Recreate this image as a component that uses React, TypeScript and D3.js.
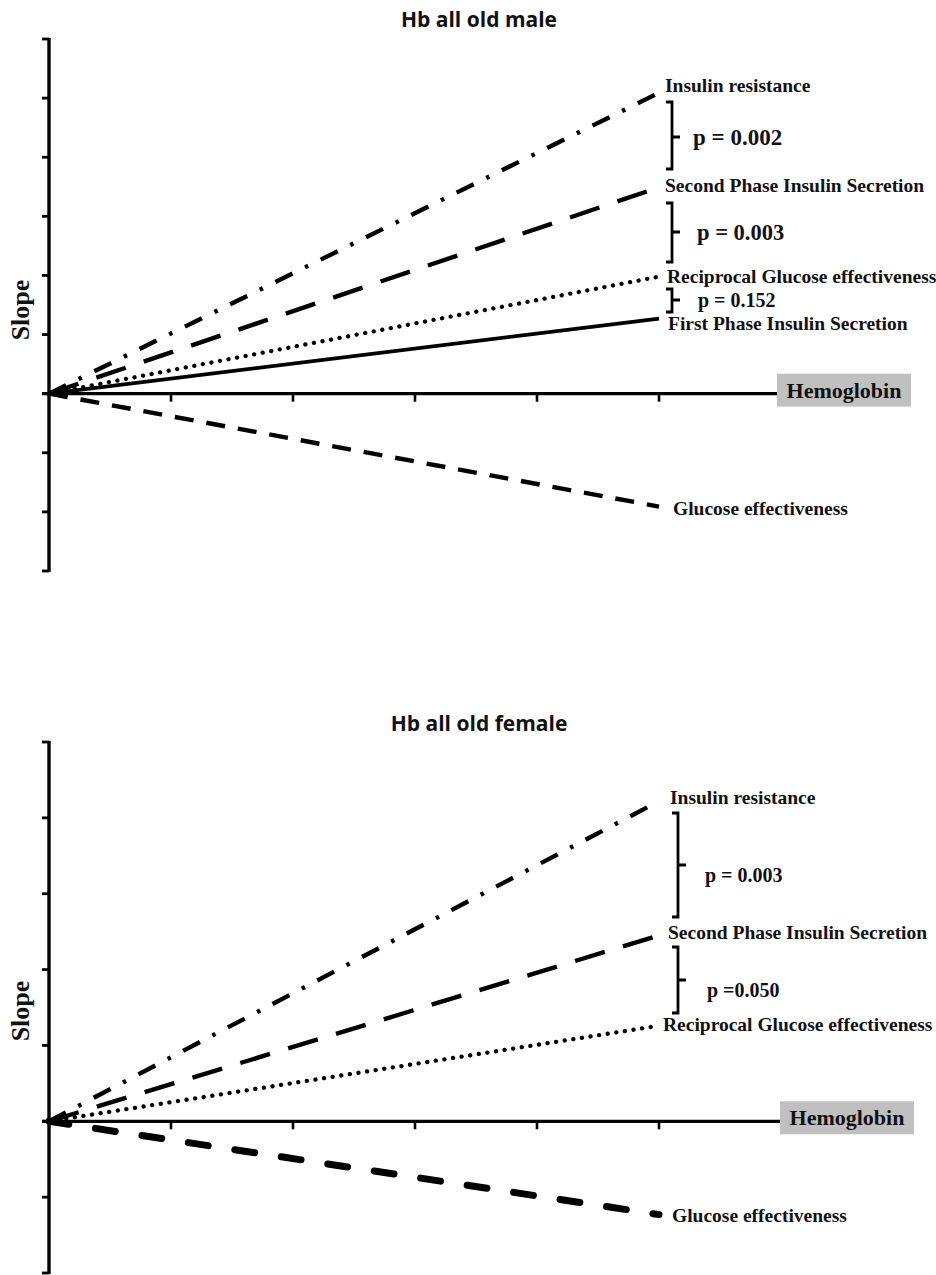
import React from "react";
import * as d3 from "d3";

// ---------- DATA ----------
const xTicks = [0, 1, 2, 3, 4, 5];
const xEnd = 5;

const maleTitle = "Hb all old male";
const maleYTicks = [-3, -2, -1, 0, 1, 2, 3, 4, 5, 6];
const maleSeries = ["Insulin resistance", "Second Phase Insulin Secretion", "Reciprocal Glucose effectiveness", "First Phase Insulin Secretion", "Glucose effectiveness"];
const maleSlopes = [5.09, 3.49, 1.98, 1.27, -1.91];
const malePValues = ["p = 0.002", "p = 0.003", "p = 0.152"];

const femaleTitle = "Hb all old female";
const femaleYTicks = [-2, -1, 0, 1, 2, 3, 4, 5];
const femaleSeries = ["Insulin resistance", "Second Phase Insulin Secretion", "Reciprocal Glucose effectiveness", "Glucose effectiveness"];
const femaleSlopes = [4.22, 2.45, 1.26, -1.23];
const femalePValues = ["p = 0.003", "p =0.050"];

// ---------- STYLES / LAYOUT ----------
const serif = "'Liberation Serif', 'Times New Roman', serif";
const sans = "'Open Sans', 'Noto Sans', sans-serif";

const lineStyles: Record<string, { dash?: string; width: number; cap: string }> = {
  "Insulin resistance": { dash: "19,14,3.5,14", width: 4.4, cap: "butt" },
  "Second Phase Insulin Secretion": { dash: "31,19", width: 4.4, cap: "butt" },
  "Reciprocal Glucose effectiveness": { dash: "0.1,8.6", width: 4.3, cap: "round" },
  "First Phase Insulin Secretion": { width: 3.8, cap: "butt" },
  "Glucose effectiveness": { dash: "19,13", width: 4.4, cap: "butt" },
};

type Panel = {
  title: string;
  yTicks: number[];
  series: string[];
  slopes: number[];
  pvals: string[];
  yRange: [number, number];
  titleY: number;
  slopeY: number;
  labelDx: number[];
  labelDy: number[];
  brackets: { top: number; bottom: number; mid: number; vx: number; px: number; py: number; fs: number }[];
  glucoseStyle?: { dash: string; width: number; cap: string };
  boxX: number;
};

const panels: Panel[] = [
  {
    title: maleTitle,
    yTicks: maleYTicks,
    series: maleSeries,
    slopes: maleSlopes,
    pvals: malePValues,
    yRange: [571, 39],
    titleY: 27,
    slopeY: 310,
    labelDx: [6, 6, 8, 9, 14],
    labelDy: [-1, 5, 6, 11, 8],
    brackets: [
      { top: 102, bottom: 169, mid: 137, vx: 672, px: 693, py: 145, fs: 23 },
      { top: 203, bottom: 262, mid: 232, vx: 672, px: 697, py: 240, fs: 22.5 },
      { top: 289, bottom: 312, mid: 300, vx: 672, px: 698, py: 307, fs: 20 },
    ],
    boxX: 777,
  },
  {
    title: femaleTitle,
    yTicks: femaleYTicks,
    series: femaleSeries,
    slopes: femaleSlopes,
    pvals: femalePValues,
    yRange: [1273, 742],
    titleY: 731,
    slopeY: 1011,
    labelDx: [11, 9, 4, 13],
    labelDy: [3, 4, 5, 7],
    brackets: [
      { top: 813, bottom: 917, mid: 865, vx: 678, px: 705, py: 882, fs: 20 },
      { top: 947, bottom: 1013, mid: 980, vx: 678, px: 707, py: 997, fs: 20 },
    ],
    glucoseStyle: { dash: "20,27", width: 7, cap: "round" },
    boxX: 780,
  },
];

function PanelView({ p }: { p: Panel }) {
  const ext = d3.extent(p.yTicks) as [number, number];
  const x = d3.scaleLinear().domain([0, 6]).range([49, 781]);
  const y = d3.scaleLinear().domain(ext).range(p.yRange);
  const x0 = x(0);
  const y0 = y(0);
  const line = d3.line<[number, number]>().x((d) => x(d[0])).y((d) => y(d[1]));
  const yTop = y(ext[1]);
  const yBot = y(ext[0]);

  return (
    <g>
      <text x={479} y={p.titleY} textAnchor="middle" fontFamily={sans} fontWeight={700} fontSize={21} fill="#111">
        {p.title}
      </text>
      {/* y axis */}
      <line x1={x0} x2={x0} y1={yTop - 1} y2={yBot + 1} stroke="#000" strokeWidth={3.4} />
      {p.yTicks.map((t) => (
        <line key={"yt" + t} x1={x0 - 7} x2={x0} y1={y(t)} y2={y(t)} stroke="#000" strokeWidth={2.8} />
      ))}
      {/* x axis */}
      <line x1={x0 - 7} x2={p.boxX} y1={y0} y2={y0} stroke="#000" strokeWidth={3.2} />
      {xTicks.filter((t) => t > 0).map((t) => (
        <line key={"xt" + t} x1={x(t)} x2={x(t)} y1={y0} y2={y0 + 8} stroke="#000" strokeWidth={2.6} />
      ))}
      <rect x={p.boxX} y={y0 - 20} width={134} height={33} fill="#c0c0c0" />
      <text x={p.boxX + 67} y={y0 + 4} textAnchor="middle" fontFamily={serif} fontWeight={700} fontSize={22} fill="#111">
        Hemoglobin
      </text>
      <text
        transform={`translate(${29},${p.slopeY}) rotate(-90)`}
        textAnchor="middle"
        fontFamily={serif}
        fontWeight={700}
        fontSize={26}
        fill="#111"
      >
        Slope
      </text>
      {/* lines */}
      {p.series.map((s, i) => {
        let st = lineStyles[s];
        if (s === "Glucose effectiveness" && p.glucoseStyle) st = p.glucoseStyle;
        const d = line([
          [0, 0],
          [xEnd, p.slopes[i]],
        ]);
        return (
          <path
            key={s}
            d={d || ""}
            fill="none"
            stroke="#000"
            strokeWidth={st.width}
            strokeDasharray={st.dash}
            strokeLinecap={st.cap as any}
          />
        );
      })}
      {/* arrow head at origin */}
      <polygon
        points={`${x0 - 1},${y0} ${x0 + 16},${y0 - 6} ${x0 + 12},${y0} ${x0 + 16},${y0 + 5}`}
        fill="#000"
      />
      {/* labels */}
      {p.series.map((s, i) => (
        <text
          key={"lb" + s}
          x={x(xEnd) + p.labelDx[i]}
          y={y(p.slopes[i]) + p.labelDy[i]}
          fontFamily={serif}
          fontWeight={700}
          fontSize={19.5}
          fill="#111"
        >
          {s}
        </text>
      ))}
      {/* brackets */}
      {p.brackets.map((b, i) => (
        <g key={"br" + i}>
          <path
            d={`M${b.vx - 6},${b.top} L${b.vx},${b.top} L${b.vx},${b.bottom} L${b.vx - 6},${b.bottom} M${b.vx},${b.mid} L${b.vx + 8},${b.mid}`}
            fill="none"
            stroke="#000"
            strokeWidth={2.8}
          />
          <text x={b.px} y={b.py} fontFamily={serif} fontWeight={700} fontSize={b.fs} fill="#111">
            {p.pvals[i]}
          </text>
        </g>
      ))}
    </g>
  );
}

export default function App() {
  return (
    <svg
      width={936}
      height={1275}
      viewBox="0 0 936 1275"
      style={{ position: "absolute", left: 0, top: 0, background: "#fff" }}
    >
      <rect width={936} height={1275} fill="#fff" />
      {panels.map((p, i) => (
        <PanelView key={i} p={p} />
      ))}
    </svg>
  );
}
